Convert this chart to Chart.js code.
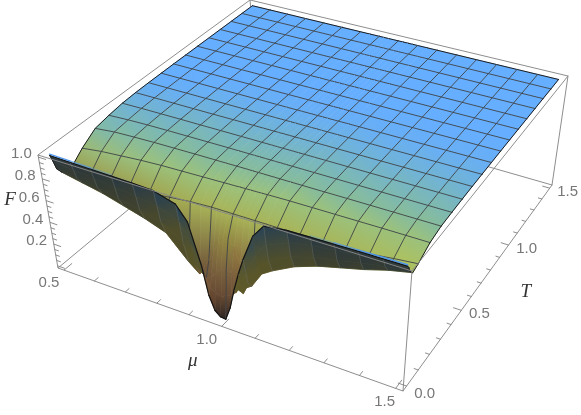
<!DOCTYPE html>
<html>
<head>
<meta charset="utf-8">
<style>
  html, body { margin: 0; padding: 0; background: #fff; }
  canvas { display: block; }
</style>
<script src="https://cdn.jsdelivr.net/npm/chart.js@4/dist/chart.umd.min.js"></script>
</head>
<body>
<canvas id="surface" width="581" height="415"></canvas>
<script>
// sample positions of the surface
const muValues = [0.5, 0.5625, 0.625, 0.6875, 0.75, 0.8125, 0.875, 0.90625, 0.9375, 0.953125, 0.96875, 0.984375, 1.0,
  1.015625, 1.03125, 1.046875, 1.0625, 1.09375, 1.125, 1.1875, 1.25, 1.3125, 1.375, 1.4375, 1.5];
const tValues = [0, 0.0125, 0.025, 0.05, 0.09375, 0.1875, 0.28125, 0.375, 0.46875, 0.5625, 0.65625, 0.75, 0.84375,
  0.9375, 1.03125, 1.125, 1.21875, 1.3125, 1.40625, 1.5];

// F, one row per T value
const flatTop = [1, 1, 1, 1, 1, 1, 1, 1, 1, 1, 1, 1, 1, 1, 1, 1, 1, 1, 1, 1, 1, 1, 1, 1, 1];
const fRows = [
  [1, .995, .99, .985, .98, .97, .91, .78, .42, .17, .05, .01, .005, .12, .30, .46, .60, .84, .96, .985, .99, .993, .996, .998, 1],
  [.93, .91, .89, .87, .85, .82, .75, .57, .33, .22, .20, .17, .20, .22, .26, .34, .48, .66, .78, .86, .90, .92, .94, .955, .97],
  [.85, .82, .79, .75, .71, .66, .54, .36, .28, .30, .36, .40, .42, .40, .27, .25, .36, .53, .62, .72, .78, .82, .86, .895, .92],
  [.79, .75, .71, .655, .60, .53, .33, .25, .40, .50, .58, .63, .66, .60, .45, .27, .30, .44, .50, .60, .67, .72, .77, .83, .875],
  [.75, .75, .76, .77, .78, .80, .82, .825, .83, .83, .83, .83, .83, .83, .83, .83, .83, .83, .83, .83, .83, .84, .85, .875, .895],
  [.86, .885, .90, .915, .925, .93, .935, .937, .94, .941, .942, .944, .945, .946, .947, .948, .95, .952, .954, .955, .956, .957, .958, .958, .958],
  [.945, .965, .972, .977, .979, .981, .982, .982, .983, .983, .983, .983, .983, .983, .983, .983, .983, .983, .983, .983, .984, .984, .984, .984, .984],
  [.97, .98, .985, .987, .988, .989, .99, .99, .99, .99, .99, .99, .99, .99, .99, .99, .99, .99, .99, .99, .99, .99, .99, .99, .99],
  [.988, .991, .992, .993, .993, .994, .994, .994, .994, .994, .994, .994, .994, .994, .994, .994, .994, .994, .994, .994, .994, .994, .994, .994, .994],
  [.995, .996, .996, .996, .996, .997, .997, .997, .997, .997, .997, .997, .997, .997, .997, .997, .997, .997, .997, .997, .997, .997, .997, .997, .997],
  [.998, .998, .998, .998, .998, .998, .998, .998, .998, .998, .998, .998, .998, .998, .998, .998, .998, .998, .998, .998, .998, .998, .998, .998, .998],
  [.999, .999, .999, .999, .999, .999, .999, .999, .999, .999, .999, .999, .999, .999, .999, .999, .999, .999, .999, .999, .999, .999, .999, .999, .999],
  flatTop, flatTop, flatTop, flatTop, flatTop, flatTop, flatTop, flatTop
];

// mesh lines, ticks
const muMesh = [0.5, 0.5625, 0.625, 0.6875, 0.75, 0.8125, 0.875, 0.9375, 1.0, 1.0625, 1.125, 1.1875, 1.25, 1.3125, 1.375, 1.4375, 1.5];
const tMesh = [0, 0.09375, 0.1875, 0.28125, 0.375, 0.46875, 0.5625, 0.65625, 0.75, 0.84375, 0.9375, 1.03125, 1.125, 1.21875, 1.3125, 1.40625, 1.5];
const muTicks = [0.5, 0.6, 0.7, 0.8, 0.9, 1.0, 1.1, 1.2, 1.3, 1.4, 1.5];
const tTicks = [0, 0.1, 0.2, 0.3, 0.4, 0.5, 0.6, 0.7, 0.8, 0.9, 1.0, 1.1, 1.2, 1.3, 1.4, 1.5];
const fTicks = [0, 0.05, 0.1, 0.15, 0.2, 0.25, 0.3, 0.35, 0.4, 0.45, 0.5, 0.55, 0.6, 0.65, 0.7, 0.75, 0.8, 0.85, 0.9, 0.95, 1.0];
const fMajor = [0, 0.2, 0.4, 0.6, 0.8, 1.0];
const muLabels = ['0.5', '1.0', '1.5'];
const tLabels = ['0.0', '0.5', '1.0', '1.5'];
const fLabels = ['0.2', '0.4', '0.6', '0.8', '1.0'];

// axis box on the page: bottom and top corners
const boxBottom = { a: { x: 58, y: 268 }, b: { x: 403, y: 391 }, c: { x: 552, y: 185 }, d: { x: 259, y: 101 } };
const boxTop = { a: { x: 38, y: 155 }, b: { x: 412, y: 271 }, c: { x: 568, y: 76 }, d: { x: 250, y: 0 } };
const muRange = [0.48, 1.52], tRange = [-0.03, 1.53], fRange = [-0.02, 1.02];

function quadMap(p00, p10, p11, p01) {
  const dx1 = p10.x - p11.x, dx2 = p01.x - p11.x, sx = p00.x - p10.x + p11.x - p01.x;
  const dy1 = p10.y - p11.y, dy2 = p01.y - p11.y, sy = p00.y - p10.y + p11.y - p01.y;
  const den = dx1 * dy2 - dx2 * dy1;
  const g = (sx * dy2 - dx2 * sy) / den, h = (dx1 * sy - sx * dy1) / den;
  const a = p10.x - p00.x + g * p10.x, b = p01.x - p00.x + h * p01.x;
  const d = p10.y - p00.y + g * p10.y, e = p01.y - p00.y + h * p01.y;
  return (u, v) => {
    const q = g * u + h * v + 1;
    return { x: (a * u + b * v + p00.x) / q, y: (d * u + e * v + p00.y) / q };
  };
}
const mapBottom = quadMap(boxBottom.a, boxBottom.b, boxBottom.c, boxBottom.d);
const mapTop = quadMap(boxTop.a, boxTop.b, boxTop.c, boxTop.d);

function boxPoint(u, v, w) {
  const p = mapBottom(u, v), q = mapTop(u, v);
  return { x: p.x + (q.x - p.x) * w, y: p.y + (q.y - p.y) * w };
}
function project(mu, t, f) {
  return boxPoint((mu - muRange[0]) / (muRange[1] - muRange[0]),
    (t - tRange[0]) / (tRange[1] - tRange[0]),
    (f - fRange[0]) / (fRange[1] - fRange[0]));
}

// lit side: tone runs with T, inside the dip it runs with F
const toneStops = [[0, [172, 198, 100]], [.1, [172, 198, 100]], [.19, [155, 193, 125]], [.28, [135, 188, 155]],
  [.42, [122, 183, 185]], [.55, [113, 179, 212]], [.75, [104, 175, 245]], [.9, [102, 174, 255]], [2, [102, 174, 255]]];
const dipStops = [[0, [45, 36, 32]], [.08, [78, 56, 42]], [.2, [105, 76, 52]], [.45, [128, 105, 65]], [.7, [152, 146, 66]], [.9, [172, 180, 88]], [1, [176, 190, 85]]];

function mix(c0, c1, k) {
  return [c0[0] + (c1[0] - c0[0]) * k, c0[1] + (c1[1] - c0[1]) * k, c0[2] + (c1[2] - c0[2]) * k];
}
function clamp(v) {
  return Math.min(Math.max(v, 0), 1);
}
function ramp(stops, s) {
  for (let i = 1; i < stops.length; i++) {
    if (s <= stops[i][0]) {
      return mix(stops[i - 1][1], stops[i][1], (s - stops[i - 1][0]) / (stops[i][0] - stops[i - 1][0]));
    }
  }
  return stops[stops.length - 1][1];
}
function muSlope(r, c) {
  const lo = Math.max(c - 1, 0), hi = Math.min(c + 1, muValues.length - 1);
  return (fRows[r][hi] - fRows[r][lo]) / (muValues[hi] - muValues[lo]);
}
function topColor(r, c) {
  const f = fRows[r][c];
  const stretch = 0.8 + 0.2 * clamp((muValues[c] - 0.5) / 0.25);
  let col = mix(ramp(toneStops, tValues[r] / stretch), ramp(dipStops, f), clamp((0.92 - f) / 0.15));
  const side = muSlope(r, c);
  if (f < 0.6) {
    if (side < -4) col = mix(col, [190, 100, 45], Math.min((-side - 4) / 30, 0.4));
    if (side > 4) col = mix(col, [50, 42, 36], Math.min((side - 4) / 30, 0.4));
  }
  return col;
}
function underColor(r, c) {
  const f = fRows[r][c];
  const drop = Math.max(clamp((fRows[0][c] - f) / 0.3), clamp((0.75 - f) / 0.3));
  const nearDip = clamp(1 - Math.abs(muValues[c] - 1) / 0.3);
  const low = mix([62, 64, 44], [100, 94, 40], nearDip);
  const high = mix([44, 56, 60], [46, 76, 96], nearDip);
  return mix(high, low, drop);
}
function css(c) {
  return `rgb(${Math.round(c[0])},${Math.round(c[1])},${Math.round(c[2])})`;
}
function lineSet(points, color, width) {
  return { data: points, showLine: true, borderColor: color, borderWidth: width, pointRadius: 0, borderCapStyle: 'round', fill: false };
}

const datasets = [];
const boxColor = 'rgba(135,135,135,0.95)';
const meshColor = 'rgba(62,66,70,0.9)';
const meshUnder = 'rgba(105,110,105,0.42)';
const edgeColor = '#1c1c1c';
const b = boxBottom, t = boxTop;

// back of the box goes under the surface
datasets.push(lineSet([b.a, b.d, b.c], boxColor, 1));
datasets.push(lineSet([b.d, t.d], boxColor, 1));

// painter order: far T first, low mu first
for (let r = tValues.length - 2; r >= 0; r--) {
  for (let c = 0; c < muValues.length - 1; c++) {
    const p0 = project(muValues[c], tValues[r], fRows[r][c]);
    const p1 = project(muValues[c + 1], tValues[r], fRows[r][c + 1]);
    const p2 = project(muValues[c + 1], tValues[r + 1], fRows[r + 1][c + 1]);
    const p3 = project(muValues[c], tValues[r + 1], fRows[r + 1][c]);
    const area = (p1.x - p0.x) * (p2.y - p0.y) - (p2.x - p0.x) * (p1.y - p0.y)
      + (p2.x - p0.x) * (p3.y - p0.y) - (p3.x - p0.x) * (p2.y - p0.y);
    const shade = area < 0 ? topColor : underColor;
    datasets.push({
      data: [p0, p1, p2, p3],
      showLine: false,
      pointRadius: 0,
      cellFront: css(mix(shade(r, c), shade(r, c + 1), 0.5)),
      cellBack: css(mix(shade(r + 1, c), shade(r + 1, c + 1), 0.5))
    });
    const meshHere = area < 0 ? meshColor : meshUnder;
    if (tMesh.includes(tValues[r + 1])) {
      datasets.push(lineSet([p3, p2], r + 1 === tValues.length - 1 ? edgeColor : meshHere, 1));
    }
    if (muMesh.includes(muValues[c])) {
      datasets.push(lineSet([p0, p3], c === 0 ? edgeColor : meshHere, 1));
    }
    if (c === muValues.length - 2) {
      datasets.push(lineSet([p1, p2], edgeColor, 1));
    }
    if (r === 0) {
      datasets.push(lineSet([p0, p1], '#141414', 1.2));
      // the thin lit rim along the T = 0 edge, away from the dip
      const rim = muValues[c] < 0.7 ? 1 - (muValues[c] - 0.5) / 0.2 : clamp((muValues[c] - 1.2) / 0.15);
      if (rim > 0) {
        datasets.push(lineSet([project(muValues[c], 0, fRows[0][c] + 0.012), project(muValues[c + 1], 0, fRows[0][c + 1] + 0.012)],
          `rgba(80,150,235,${rim})`, 1.4));
      }
    }
  }
}

// front of the box and ticks go on top
datasets.push(lineSet([t.a, b.a, b.b, b.c, t.c, t.d, t.a], boxColor, 1));
datasets.push(lineSet([t.a, t.b, t.c], boxColor, 1));
datasets.push(lineSet([b.b, t.b], boxColor, 1));

muTicks.forEach(m => {
  const major = muLabels.includes(m.toFixed(1));
  const u = (m - muRange[0]) / (muRange[1] - muRange[0]);
  datasets.push(lineSet([boxPoint(u, 0, 0), boxPoint(u, major ? 0.032 : 0.016, 0)], boxColor, 1));
});
tTicks.forEach(v => {
  const major = tLabels.includes(v.toFixed(1));
  const w = (v - tRange[0]) / (tRange[1] - tRange[0]);
  datasets.push(lineSet([boxPoint(1, w, 0), boxPoint(major ? 0.978 : 0.989, w, 0)], boxColor, 1));
});
fTicks.forEach(v => {
  const w = (v - fRange[0]) / (fRange[1] - fRange[0]);
  datasets.push(lineSet([boxPoint(0, 0, w), boxPoint(fMajor.includes(v) ? 0.022 : 0.012, 0, w)], boxColor, 1));
});

// index 0 is drawn last by Chart.js, so flip the order
datasets.forEach((d, i) => { d.order = datasets.length - i; });

const cellFill = {
  id: 'cellFill',
  beforeDatasetDraw(chart, args) {
    const ds = chart.data.datasets[args.index];
    if (!ds.cellFront) return;
    const pts = args.meta.data;
    const ctx = chart.ctx;
    const g = ctx.createLinearGradient((pts[0].x + pts[1].x) / 2, (pts[0].y + pts[1].y) / 2,
      (pts[2].x + pts[3].x) / 2, (pts[2].y + pts[3].y) / 2);
    g.addColorStop(0, ds.cellFront);
    g.addColorStop(1, ds.cellBack);
    ctx.save();
    ctx.beginPath();
    pts.forEach((p, i) => { if (i) ctx.lineTo(p.x, p.y); else ctx.moveTo(p.x, p.y); });
    ctx.closePath();
    ctx.fillStyle = g;
    ctx.strokeStyle = g;
    ctx.lineWidth = 0.7;
    ctx.lineJoin = 'round';
    ctx.fill();
    ctx.stroke();
    ctx.restore();
  }
};

const axisText = {
  id: 'axisText',
  afterDraw(chart) {
    const ctx = chart.ctx;
    const sx = chart.scales.x, sy = chart.scales.y;
    const put = (text, p, dx, dy) => ctx.fillText(text, sx.getPixelForValue(p.x) + dx, sy.getPixelForValue(p.y) + dy);
    ctx.save();
    ctx.textAlign = 'center';
    ctx.textBaseline = 'middle';
    ctx.fillStyle = '#777';
    ctx.font = '15px "Liberation Sans", sans-serif';
    muLabels.forEach((s, i) => {
      const u = (parseFloat(s) - muRange[0]) / (muRange[1] - muRange[0]);
      put(s, boxPoint(u, 0, 0), [-15, -15, -11][i], 13);
    });
    tLabels.forEach((s, i) => {
      const v = (parseFloat(s) - tRange[0]) / (tRange[1] - tRange[0]);
      put(s, boxPoint(1, v, 0), 18, [8, 4, 4, 4][i]);
    });
    fLabels.forEach(s => {
      const w = (parseFloat(s) - fRange[0]) / (fRange[1] - fRange[0]);
      put(s, boxPoint(0, 0, w), -17, -3);
    });
    ctx.fillStyle = '#333';
    ctx.font = 'italic 19px "Liberation Serif", serif';
    put('μ', boxPoint(0.5, 0, 0), -29, 35);
    put('T', boxPoint(1, 0.5, 0), 40, 15);
    put('F', boxPoint(0, 0, 0.5), -38, -12);
    ctx.restore();
  }
};

new Chart(document.getElementById('surface').getContext('2d'), {
  type: 'scatter',
  data: { datasets },
  plugins: [cellFill, axisText],
  options: {
    responsive: false,
    animation: false,
    events: [],
    layout: { padding: 0 },
    scales: {
      x: { type: 'linear', display: false, min: 0, max: 581 },
      y: { type: 'linear', display: false, min: 0, max: 415, reverse: true }
    },
    plugins: { legend: { display: false }, tooltip: { enabled: false } }
  }
});
</script>
</body>
</html>
